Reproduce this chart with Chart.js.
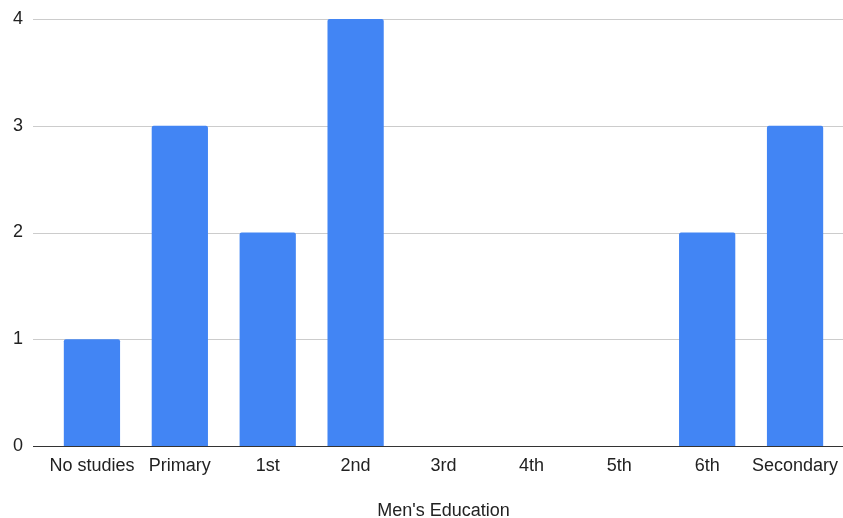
<!DOCTYPE html>
<html>
<head>
<meta charset="utf-8">
<script src="https://cdn.jsdelivr.net/npm/chart.js@4"></script>
<style>
  html, body { margin: 0; padding: 0; background: #fff; }
  #wrap { width: 843px; height: 518px; }
</style>
</head>
<body>
<div id="wrap"><canvas id="myChart"></canvas></div>
<script>
const categories = ['No studies', 'Primary', '1st', '2nd', '3rd', '4th', '5th', '6th', 'Secondary']
const counts = [1, 3, 2, 4, 0, 0, 0, 2, 3]
const yTicks = [0, 1, 2, 3, 4]

// gridlines in the reference run a little past the first/last category,
// so they are drawn here across the whole width from the y scale
const gridLines = {
  id: 'gridLines',
  beforeDatasetsDraw(chart) {
    const c = chart.ctx
    const y = chart.scales.y
    c.save()
    c.lineWidth = 1
    yTicks.forEach(v => {
      const py = Math.round(y.getPixelForValue(v)) + 0.5
      c.strokeStyle = v === 0 ? '#333333' : '#cccccc'
      c.beginPath()
      c.moveTo(33, py)
      c.lineTo(chart.width, py)
      c.stroke()
    })
    c.restore()
  }
}

var ctx = document.getElementById('myChart').getContext('2d')
var chart = new Chart(ctx, {
  type: 'bar',
  data: {
    labels: categories,
    datasets: [{
      data: counts,
      backgroundColor: '#4285f4',
      borderRadius: 2,
      borderSkipped: 'bottom',
      barPercentage: 0.8,
      categoryPercentage: 0.8
    }]
  },
  options: {
    responsive: true,
    maintainAspectRatio: false,
    animation: false,
    layout: { padding: { top: 19, right: 4, left: 0, bottom: 0 } },
    plugins: { legend: { display: false }, tooltip: { enabled: false } },
    scales: {
      x: {
        grid: { display: false },
        border: { display: false },
        ticks: { color: '#222', font: { family: 'Liberation Sans', size: 18 }, padding: 1, maxRotation: 0, autoSkip: false },
        title: { display: true, text: "Men's Education", color: '#222', font: { family: 'Liberation Sans', size: 18 }, padding: { top: 0, bottom: -4 } },
        afterFit(scale) { scale.height = 72 }
      },
      y: {
        min: 0,
        max: 4,
        afterBuildTicks(scale) { scale.ticks = yTicks.map(v => ({ value: v })) },
        grid: { display: false },
        border: { display: false },
        ticks: { color: '#222', font: { family: 'Liberation Sans', size: 18 }, padding: 17 },
        afterFit(scale) {
          scale.width = 48
          scale.paddingTop = 0
          scale.paddingBottom = 0
        }
      }
    }
  },
  plugins: [gridLines]
})
</script>
</body>
</html>
